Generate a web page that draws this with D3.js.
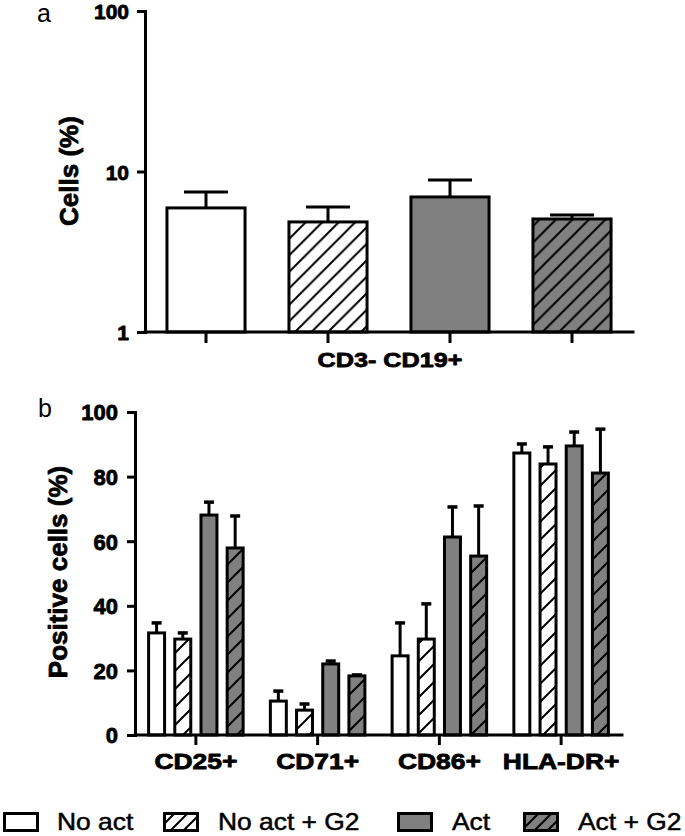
<!DOCTYPE html>
<html><head><meta charset="utf-8">
<script src="https://cdn.jsdelivr.net/npm/d3@7"></script>
<style>body{margin:0;background:#fff} svg{display:block}</style>
</head><body><svg id="c" width="685" height="836"></svg>
<script>
// ---------- DATA ----------
const seriesNames = ["No act", "No act + G2", "Act", "Act + G2"];
const panelACategory = "CD3- CD19+";
const panelAMeans = [5.93, 4.85, 6.94, 5.06];
const panelASem   = [1.52, 1.15, 1.91, 0.30];
const panelATicks = [1, 10, 100];

const panelBCategories = ["CD25+", "CD71+", "CD86+", "HLA-DR+"];
const noActMeans   = [31.6, 10.5, 24.5, 87.3];
const noActSem     = [3.1, 3.1, 10.2, 2.8];
const noActG2Means = [29.7, 7.7, 29.7, 83.9];
const noActG2Sem   = [1.9, 1.9, 10.9, 5.3];
const actMeans     = [68.1, 22.0, 61.3, 89.5];
const actSem       = [4.0, 0.9, 9.3, 4.3];
const actG2Means   = [57.9, 18.3, 55.4, 81.1];
const actG2Sem     = [9.9, 0.3, 15.5, 13.6];
const panelBTicks  = [0, 20, 40, 60, 80, 100];

const panelATitle = "Cells (%)";
const panelBTitle = "Positive cells (%)";

// ---------- DRAW ----------
const svg = d3.select("#c");
const defs = svg.append("defs");
function hatch(id, size, bg) {
  const p = defs.append("pattern").attr("id", id)
    .attr("patternUnits", "userSpaceOnUse").attr("width", size).attr("height", size);
  p.append("rect").attr("width", size).attr("height", size).attr("fill", bg);
  const q = size / 4;
  p.append("path")
    .attr("d", `M${-q},${q} L${q},${-q} M0,${size} L${size},0 M${size - q},${size + q} L${size + q},${size - q}`)
    .attr("stroke", "#000").attr("stroke-width", 2).attr("stroke-linecap", "square");
}
hatch("hwA", 16.5, "#fff"); hatch("hgA", 16.5, "#808080");
hatch("hwB", 18, "#fff");   hatch("hgB", 18, "#808080");
hatch("hwL", 13, "#fff");   hatch("hgL", 13, "#808080");
const fillsA = ["#fff", "url(#hwA)", "#808080", "url(#hgA)"];
const fillsB = ["#fff", "url(#hwB)", "#808080", "url(#hgB)"];
const fillsL = ["#fff", "url(#hwL)", "#808080", "url(#hgL)"];

const boldFont = "'Liberation Sans', Arial, sans-serif";

function heavy(sel, w) {
  sel.attr("stroke", "#000").attr("stroke-width", w).attr("stroke-linejoin", "round");
}
function styleAxis(g) {
  g.selectAll("path,line").attr("stroke", "#000").attr("stroke-width", 3);
  g.select(".domain").attr("stroke-linecap", "square");
  const t = g.selectAll("text").attr("fill", "#000").attr("font-family", boldFont)
    .attr("font-weight", "bold");
  heavy(t, 0.8);
}

// ----- Panel a -----
const yA = d3.scaleLog().domain([1, 100]).range([332, 11]);
const xA = d3.scaleBand().domain(seriesNames).range([145, 633])
  .paddingInner(0.36).paddingOuter(0.18);

const gA = svg.append("g");
panelAMeans.forEach((m, i) => {
  const cx = xA(seriesNames[i]) + xA.bandwidth() / 2;
  const top = yA(m), errTop = yA(m + panelASem[i]);
  gA.append("line").attr("x1", cx).attr("x2", cx).attr("y1", top).attr("y2", errTop)
    .attr("stroke", "#000").attr("stroke-width", 3);
  gA.append("line").attr("x1", cx - 22).attr("x2", cx + 22).attr("y1", errTop).attr("y2", errTop)
    .attr("stroke", "#000").attr("stroke-width", 3);
  gA.append("rect").attr("x", xA(seriesNames[i])).attr("width", xA.bandwidth())
    .attr("y", top).attr("height", yA(1) - top)
    .attr("fill", fillsA[i]).attr("stroke", "#000").attr("stroke-width", 3);
});

const axAy = svg.append("g").attr("transform", "translate(145,0)")
  .call(d3.axisLeft(yA).tickValues(panelATicks).tickFormat(d3.format("d"))
    .tickSize(8).tickSizeOuter(0).tickPadding(8));
styleAxis(axAy);
axAy.selectAll("text").attr("font-size", 21).attr("dy", "0.36em");

const axAx = svg.append("g").attr("transform", "translate(0,332)")
  .call(d3.axisBottom(xA).tickFormat("").tickSize(11).tickSizeOuter(0));
axAx.select(".domain").attr("d", "M145,0H633");
styleAxis(axAx);

heavy(svg.append("text").attr("transform", "translate(390,367) scale(1.2,1)")
  .attr("text-anchor", "middle").attr("font-family", boldFont).attr("font-weight", "bold")
  .attr("font-size", 21).text(panelACategory), 0.8);

heavy(svg.append("text").attr("transform", "translate(78,171) rotate(-90)")
  .attr("text-anchor", "middle").attr("font-family", boldFont).attr("font-weight", "bold")
  .attr("font-size", 26).text(panelATitle), 0.8);

svg.append("text").attr("x", 37).attr("y", 22).attr("font-family", boldFont)
  .attr("font-size", 25).text("a");

// ----- Panel b -----
const yB = d3.scaleLinear().domain([0, 100]).range([735, 412]);
const xB0 = d3.scaleBand().domain(panelBCategories).range([135, 622]);
const xB1 = d3.scaleBand().domain(seriesNames).range([8.5, 113.25])
  .paddingInner(0.39).paddingOuter(0.195);
const meansB = [noActMeans, noActG2Means, actMeans, actG2Means];
const semB = [noActSem, noActG2Sem, actSem, actG2Sem];

const gB = svg.append("g");
panelBCategories.forEach((c, j) => {
  seriesNames.forEach((s, i) => {
    const x = xB0(c) + xB1(s);
    const cx = x + xB1.bandwidth() / 2;
    const m = meansB[i][j];
    const top = yB(m), errTop = yB(m + semB[i][j]);
    gB.append("line").attr("x1", cx).attr("x2", cx).attr("y1", top).attr("y2", errTop)
      .attr("stroke", "#000").attr("stroke-width", 3);
    gB.append("line").attr("x1", cx - 5).attr("x2", cx + 5).attr("y1", errTop).attr("y2", errTop)
      .attr("stroke", "#000").attr("stroke-width", 3.5);
    gB.append("rect").attr("x", x).attr("width", xB1.bandwidth())
      .attr("y", top).attr("height", yB(0) - top)
      .attr("fill", fillsB[i]).attr("stroke", "#000").attr("stroke-width", 3);
  });
});

const axBy = svg.append("g").attr("transform", "translate(135,0)")
  .call(d3.axisLeft(yB).tickValues(panelBTicks).tickSize(8).tickSizeOuter(0).tickPadding(9));
styleAxis(axBy);
axBy.selectAll("text").attr("font-size", 22).attr("dy", "0.36em");

const axBx = svg.append("g").attr("transform", "translate(0,735)")
  .call(d3.axisBottom(xB0).tickSize(10).tickSizeOuter(0));
axBx.select(".domain").attr("d", "M135,0H622");
styleAxis(axBx);
axBx.selectAll("text").attr("font-size", 22).attr("y", 34).attr("dy", 0)
  .attr("transform", "scale(1.2,1)");

heavy(svg.append("text").attr("transform", "translate(67,572) rotate(-90)")
  .attr("text-anchor", "middle").attr("font-family", boldFont).attr("font-weight", "bold")
  .attr("font-size", 26).text(panelBTitle), 0.8);

svg.append("text").attr("x", 38).attr("y", 417).attr("font-family", boldFont)
  .attr("font-size", 25).text("b");

// ----- Legend -----
const legBoxX = [4.5, 164.5, 398.5, 524.5];
const legTextX = [57, 218, 452, 578];
const leg = svg.append("g");
seriesNames.forEach((s, i) => {
  leg.append("rect").attr("x", legBoxX[i]).attr("y", 813.5).attr("width", 33).attr("height", 17)
    .attr("fill", fillsL[i]).attr("stroke", "#000").attr("stroke-width", 3);
  heavy(leg.append("text").attr("transform", `translate(${legTextX[i]},830) scale(1.1,1)`)
    .attr("font-family", boldFont).attr("font-size", 24).text(s), 0.5);
});
</script>
</body></html>
